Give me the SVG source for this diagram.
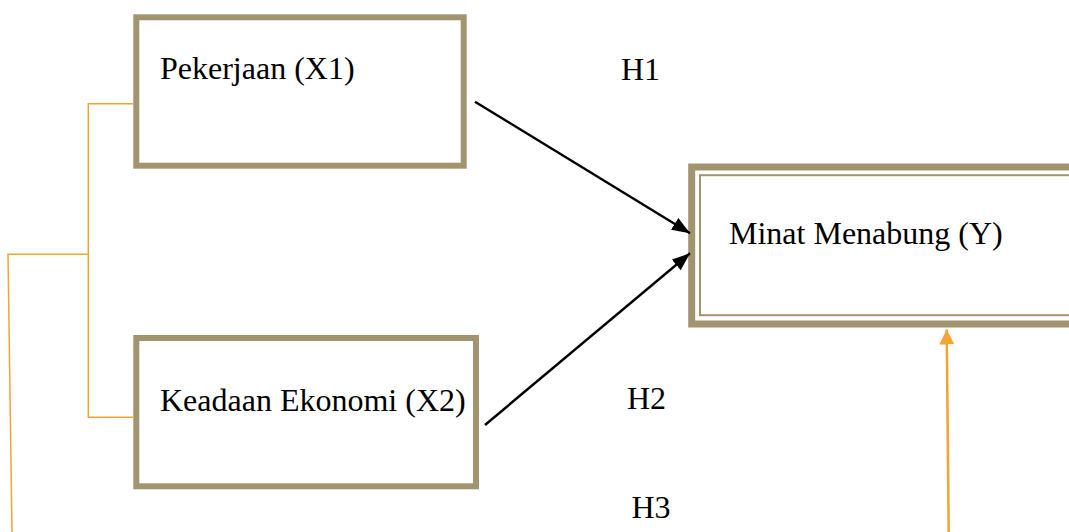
<svg xmlns="http://www.w3.org/2000/svg" width="1069" height="532" viewBox="0 0 1069 532">
<style>
.box{fill:#fff;stroke:#A39470;stroke-width:6}
.inner{fill:none;stroke:#A39470;stroke-width:2}
.t{font-family:"Liberation Serif","Times New Roman",serif;font-size:32px;fill:#000}
.blk{stroke:#000;stroke-width:2.5;fill:none}
.org{stroke:#F2A332;stroke-width:1.5;fill:none}
.orgA{stroke:#F2A332;stroke-width:2.5;fill:none}
</style>
<defs>
<marker id="ab" markerUnits="userSpaceOnUse" markerWidth="20" markerHeight="14" refX="18" refY="7" orient="auto">
<path d="M0,0 L18,7 L0,14 Z" fill="#000"/>
</marker>
<marker id="ao" markerUnits="userSpaceOnUse" markerWidth="16" markerHeight="15" refX="15" refY="7.5" orient="auto">
<path d="M0,0 L15,7.5 L0,15 Z" fill="#F2A332"/>
</marker>
</defs>
<rect width="1069" height="532" fill="#fff"/>
<g id="x1">
<rect class="box" x="136.3" y="17.3" width="327.4" height="148.4"/>
<text class="t" x="160" y="79">Pekerjaan (X1)</text>
</g>
<g id="x2">
<rect class="box" x="136.3" y="338" width="339.7" height="148.3"/>
<text class="t" x="160" y="411">Keadaan Ekonomi (X2)</text>
</g>
<g id="y">
<rect class="box" x="691.7" y="167" width="400" height="157" style="stroke-width:7"/>
<rect class="inner" x="700" y="175.2" width="400" height="140"/>
<text class="t" x="729" y="243.5">Minat Menabung (Y)</text>
</g>
<g id="labels">
<text class="t" x="621" y="79.5">H1</text>
<text class="t" x="627" y="408.5">H2</text>
<text class="t" x="631.5" y="517.5">H3</text>
</g>
<g id="connectors">
<line class="blk" x1="475" y1="101.7" x2="690" y2="233.3" marker-end="url(#ab)"/>
<line class="blk" x1="485" y1="425" x2="690" y2="253.3" marker-end="url(#ab)"/>
<polyline class="org" points="133,103.7 88.3,103.7 88.3,417.3 133,417.3"/>
<polyline class="org" points="89,254.3 8,254.3 12,532"/>
<line class="orgA" x1="948.7" y1="532" x2="946.7" y2="329.5" marker-end="url(#ao)"/>
</g>
</svg>
